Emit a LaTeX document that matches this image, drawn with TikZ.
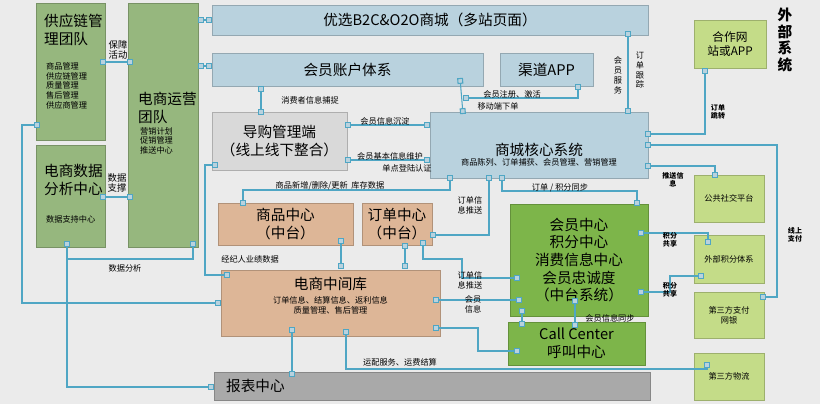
\documentclass[tikz,border=0pt]{standalone}
\usepackage{fontspec}
\setmainfont{Noto Sans CJK SC}
\usetikzlibrary{arrows.meta,fit}
\definecolor{bgc}{HTML}{EBEBEB}
\definecolor{dgreen}{HTML}{96B77E}
\definecolor{mgreen}{HTML}{7DB54A}
\definecolor{lgreen}{HTML}{C4DC88}
\definecolor{lblue}{HTML}{B9D2DE}
\definecolor{salmon}{HTML}{DDB697}
\definecolor{lgray}{HTML}{D9D9D9}
\definecolor{dgray}{HTML}{A9A9A9}
\definecolor{wire}{HTML}{4FA6C4}
\tikzset{
  box/.style={draw=#1!80!black, fill=#1, inner sep=0pt},
  title/.style={font=\fontsize{12.5}{15}\selectfont, align=center},
  small/.style={font=\fontsize{7}{8.5}\selectfont, align=center},
  tiny/.style={font=\fontsize{6}{6.5}\selectfont\bfseries, align=center},
  link/.style={draw=wire, line width=0.9pt,
    {Square[open,length=5pt,width=5pt,fill=lblue]}-{Square[open,length=5pt,width=5pt,fill=lblue]}},
}
\begin{document}
\begin{tikzpicture}[x=0.03cm,y=-0.03cm]
\fill[bgc] (0,0) rectangle (820,404);

% left teams
\node[box=dgreen, fit={(36,3) (105,140)}] (supply) {};
\node[title, anchor=north west, align=left] at (40,10) {供应链管\\理团队};
\node[small, anchor=north west, align=left] at (42,58) {商品管理\\供应链管理\\质量管理\\售后管理\\供应商管理};
\node[box=dgreen, fit={(36,145) (105,247)}] (data) {};
\node[title, anchor=north west, align=left] at (40,160) {电商数据\\分析中心};
\node[small, anchor=north west] at (42,211) {数据支持中心};
\node[box=dgreen, fit={(128,3) (198,247)}] (ops) {};
\node[title, anchor=north west, align=left] at (134,88) {电商运营\\团队};
\node[small, anchor=north west, align=left] at (136,123) {营销计划\\促销管理\\推送中心};

% platform
\node[box=lblue, fit={(212,5) (648,35)}] (b2c) {};
\node[title] at (b2c.center) {优选B2C\&O2O商城（多站页面）};
\node[box=lblue, fit={(212,53) (483,86)}] (account) {};
\node[title] at (account.center) {会员账户体系};
\node[box=lblue, fit={(500,53) (593,86)}] (channel) {};
\node[title] at (channel.center) {渠道APP};
\node[box=lgray, fit={(212,112) (347,170)}] (guide) {};
\node[title] at (guide.center) {导购管理端\\（线上线下整合）};
\node[box=lblue, fit={(430,112) (648,178)}] (core) {};
\node[title] at ([yshift=-4pt]core.center) {商城核心系统};
\node[small] at ([yshift=-15pt]core.center) {商品陈列、订单捕获、会员管理、营销管理};
\node[box=salmon, fit={(218,203) (353,245)}] (goods) {};
\node[title] at (goods.center) {商品中心\\（中台）};
\node[box=salmon, fit={(362,203) (432,245)}] (order) {};
\node[title] at (order.center) {订单中心\\（中台）};
\node[box=mgreen, fit={(510,204) (648,316)}] (member) {};
\node[title] at (member.center) {会员中心\\积分中心\\消费信息中心\\会员忠诚度\\（中台系统）};
\node[box=mgreen, fit={(508,322) (645,365)}] (call) {};
\node[title] at (call.center) {Call Center\\呼叫中心};
\node[box=salmon, fit={(221,270) (440,336)}] (middle) {};
\node[title] at ([yshift=16pt]middle.center) {电商中间库};
\node[small] at ([yshift=-2pt]middle.center) {订单信息、结算信息、返利信息\\质量管理、售后管理};
\node[box=dgray, fit={(214,372) (650,400)}] (report) {};
\node[title, anchor=west] at (222,386) {报表中心};

% external
\node[font=\fontsize{12.5}{14}\selectfont\bfseries, align=center] (ext) at (785,40) {外\\部\\系\\统};
\node[box=lgreen, fit={(694,20) (766,68)}] (partner) {};
\node[font=\fontsize{10}{12}\selectfont, align=center] at (partner.center) {合作网\\站或APP};
\node[box=lgreen, fit={(694,175) (764,222)}] (social) {};
\node[small] at (social.center) {公共社交平台};
\node[box=lgreen, fit={(694,235) (764,283)}] (points) {};
\node[small] at (points.center) {外部积分体系};
\node[box=lgreen, fit={(694,292) (764,338)}] (pay) {};
\node[small] at (pay.center) {第三方支付\\网银};
\node[box=lgreen, fit={(694,353) (764,400)}] (logi) {};
\node[small] at (logi.center) {第三方物流};

% connectors
\draw[link] (ops.east |- 0,20) -- (b2c.west |- 0,20);
\draw[link] (ops.east |- 0,66) -- (account.west |- 0,66);
\draw[link] (100,62) -- (133,62);
\node[small, font=\fontsize{8}{9}\selectfont] at (118,50) {保障\\活动};
\draw[link] (100,197) -- (133,197);
\node[small, font=\fontsize{8}{9}\selectfont] at (117,183) {数据\\支撑};
\draw[link] (40,125) -| (22,303) -- (middle.west |- 0,303);
\draw[link] (67,241) |- (193,259) -- (193,241);
\draw[link] (67,241) |- (report.west |- 0,387);
\node[small] at (125,268) {数据分析};
\draw[link] (261,86) -- (261,115);
\node[small] at (310,100) {消费者信息捕捉};
\draw[link] (345,125) -- (core.west |- 0,125);
\node[small] at (385,121) {会员信息沉淀};
\draw[link] (345,160) -- (core.west |- 0,160);
\node[small] at (390,156) {会员基本信息维护};
\node[small] at (407,168) {单点登陆认证};
\draw[link] (218,165) -| (205,275) -- (230,275);
\node[small] at (250,259) {经纪人业绩数据};
\draw[link] (450,175) |- (243,190) -- (243,206);
\node[small] at (330,186) {商品新增/删除/更新\ \ 库存数据};
\draw[link] (460,78) -- (463,114);
\draw[link] (578,84) |- (463,98);
\node[small] at (512,94) {会员注册、激活};
\node[small] at (498,106) {移动端下单};
\draw[link] (628,114) -- (628,31);
\node[small] at (618,75) {会\\员\\服\\务};
\node[small] at (640,70) {订\\单\\跟\\踪};
\draw[link] (645,134) -| (partner.south -| 705,0);
\node[tiny] at (718,112) {订单\\跳转};
\draw[link] (645,145) -| (777,297) -- (760,297);
\node[tiny] at (795,235) {线上\\支付};
\draw[link] (645,166) -| (715,178);
\node[tiny] at (673,180) {推送信\\息};
\draw[link] (502,175) |- (637,191) -- (637,206);
\node[small] at (560,188) {订单 / 积分同步};
\draw[link] (489,175) |- (430,235);
\node[small] at (470,205) {订单信\\息推送};
\draw[link] (423,240) |- (462,259) |- (520,278);
\node[small] at (470,280) {订单信\\息推送};
\draw[link] (341,238) -- (341,269);
\draw[link] (405,243) -- (405,269);
\draw[link] (433,300) -- (522,300);
\node[small] at (473,304) {会员\\信息};
\draw[link] (522,308) -- (522,327);
\draw[link] (575,298) -- (575,328);
\node[small] at (610,318) {会员信息同步};
\draw[link] (433,328) -| (478,351) -- (520,351);
\draw[link] (346,329) |- (707,369) -- (707,362);
\node[small] at (400,362) {运配服务、运费结算};
\draw[link] (292,327) -- (292,377);
\draw[link] (638,233) -| (708,245);
\node[tiny] at (670,240) {积分\\共享};
\draw[link] (638,292) -| (670,276) -- (704,276);
\node[tiny] at (670,290) {积分\\共享};
\end{tikzpicture}
\end{document}
